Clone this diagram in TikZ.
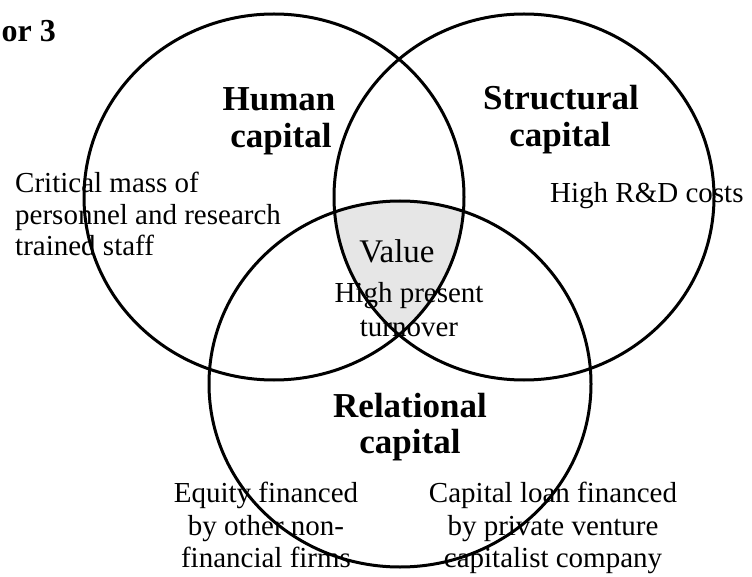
\documentclass[tikz,border=0pt]{standalone}
\usepackage{fontspec}
\setmainfont{Liberation Serif}
\begin{document}
\begin{tikzpicture}[x=1pt,y=-1pt,
  ring/.style={line width=3pt},
  body/.style={inner sep=0pt,font=\fontsize{29}{32}\selectfont},
  head/.style={inner sep=0pt,font=\fontsize{35}{37}\bfseries\selectfont},
  valtext/.style={inner sep=0pt,font=\fontsize{33}{36}\selectfont}]
\useasboundingbox (0,0) rectangle (752,577);
\definecolor{valuegray}{RGB}{230,230,230}
% shaded intersection
\begin{scope}
  \clip (274,197) ellipse [x radius=190pt, y radius=183pt];
  \clip (524,197) ellipse [x radius=190pt, y radius=183pt];
  \fill[valuegray] (400,384) ellipse [x radius=191pt, y radius=183pt];
\end{scope}
\draw[ring] (274,197) ellipse [x radius=190pt, y radius=183pt];
\draw[ring] (524,197) ellipse [x radius=190pt, y radius=183pt];
\draw[ring] (400,384) ellipse [x radius=191pt, y radius=183pt];
% title fragment
\node[inner sep=0pt,font=\fontsize{32}{34}\bfseries\selectfont,anchor=base east] (title) at (56,42) {or 3};
% headings
\node[head,anchor=base] (h1) at (279,111) {Human};
\node[head,anchor=base] (h2) at (281,148) {capital};
\node[head,anchor=base] (s1) at (561,110) {Structural};
\node[head,anchor=base] (s2) at (560,147) {capital};
\node[head,anchor=base] (r1) at (410,417) {Relational};
\node[head,anchor=base] (r2) at (410,453) {capital};
% body texts
\node[body,anchor=base west] (c1) at (15,193) {Critical mass of};
\node[body,anchor=base west] (c2) at (15,225) {personnel and research};
\node[body,anchor=base west] (c3) at (15,256) {trained staff};
\node[body,anchor=base west] (rd) at (550,203) {High R\&D costs};
\node[valtext,anchor=base] (val) at (397,263) {Value};
\node[body,anchor=base] (v1) at (409,302) {High present};
\node[body,anchor=base] (v2) at (409,336) {turnover};
\node[body,anchor=base] (e1) at (266,502) {Equity financed};
\node[body,anchor=base] (e2) at (266,535) {by other non-};
\node[body,anchor=base] (e3) at (266,567) {financial firms};
\node[body,anchor=base] (k1) at (553,502) {Capital loan financed};
\node[body,anchor=base] (k2) at (553,535) {by private venture};
\node[body,anchor=base] (k3) at (553,567) {capitalist company};
\end{tikzpicture}
\end{document}
